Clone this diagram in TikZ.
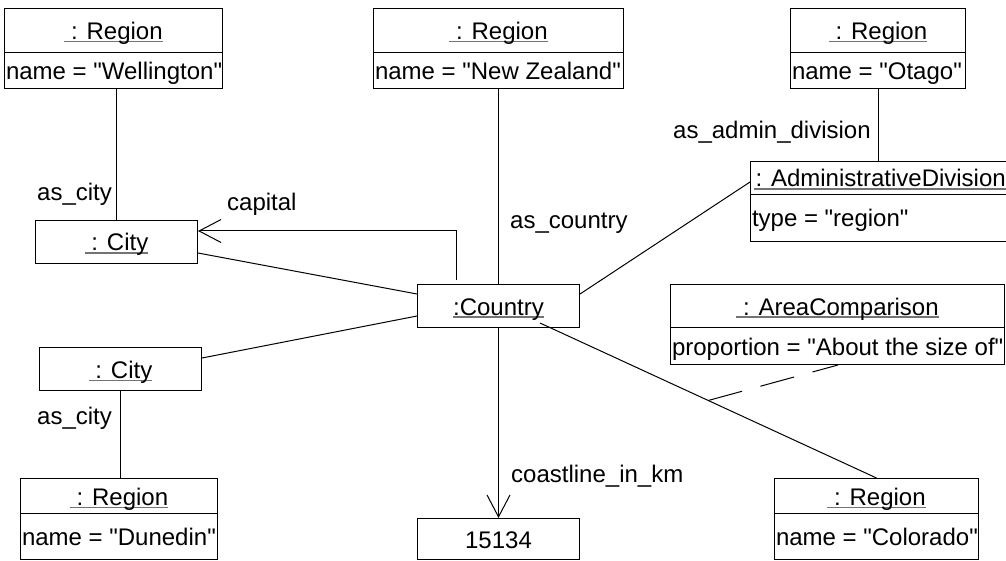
\documentclass[tikz,border=0pt]{standalone}
\usepackage{fontspec}
\setmainfont{Liberation Sans}[Ligatures=TeXOff]
\usetikzlibrary{arrows.meta,calc}
\definecolor{ulgray}{gray}{0.45}
\newsavebox\ulbox
\newcommand\ulx[1]{\sbox\ulbox{#1}\rlap{\textcolor{ulgray}{\rule[-2.6pt]{\wd\ulbox}{1.1pt}}}\usebox\ulbox}
\begin{document}
\begin{tikzpicture}[x=1pt,y=-1pt,
  every node/.style={font=\fontsize{24pt}{28pt}\selectfont},
  box/.style={draw, line width=1pt, inner sep=0pt, anchor=north west, text height=18pt, text depth=0pt},
  lbl/.style={inner sep=0pt, anchor=base west},
  conn/.style={line width=1pt},
  opentip/.style={-{Straight Barb[length=22pt,width=23pt,line width=1pt]}}
]
\useasboundingbox (0,0) rectangle (1006,561);
\clip (0,0) rectangle (1006,561);
\fill[white] (0,0) rectangle (1006,561);

% objects
\node[box, minimum width=218pt, minimum height=44pt] (wel) at (4,8) {\ulx{\ : Region}};
\node[box, minimum width=218pt, minimum height=36pt] (welA) at (4,52) {\makebox[215pt][l]{name = "Wellington"}};

\node[box, minimum width=250pt, minimum height=44pt] (nz) at (373,8) {\ulx{\ : Region}};
\node[box, minimum width=250pt, minimum height=36pt] (nzA) at (373,52) {\makebox[247pt][l]{name = "New Zealand"}};

\node[box, minimum width=175pt, minimum height=44pt] (ota) at (790,8) {\ulx{\ : Region}};
\node[box, minimum width=175pt, minimum height=36pt] (otaA) at (790,52) {\makebox[172pt][l]{name = "Otago"}};

\node[box, minimum width=262pt, minimum height=33pt] (adm) at (750,161) {\makebox[262pt][l]{\hspace{3pt}\ulx{\hspace{2pt}: AdministrativeDivision}}};
\node[box, minimum width=262pt, minimum height=47pt] (admA) at (750,194) {\makebox[259pt][l]{type = "region"}};

\node[box, minimum width=162pt, minimum height=43pt] (city1) at (35,220) {\ulx{\ : City}};
\node[box, minimum width=162pt, minimum height=43pt] (country) at (417,284) {\ulx{:Country}};
\node[box, minimum width=162pt, minimum height=43pt] (city2) at (39,347) {\ulx{\ : City}};

\node[box, minimum width=334pt, minimum height=43pt] (area) at (670,284) {\ulx{\ : AreaComparison}};
\node[box, minimum width=334pt, minimum height=37pt] (areaA) at (670,327) {\makebox[331pt][l]{proportion = "About the size of"}};

\node[box, minimum width=197pt, minimum height=35pt] (dun) at (20,478) {\ulx{\ : Region}};
\node[box, minimum width=197pt, minimum height=46pt] (dunA) at (20,513) {\makebox[194pt][l]{name = "Dunedin"}};

\node[box, minimum width=162pt, minimum height=41pt] (num) at (417,518) {15134};

\node[box, minimum width=204pt, minimum height=35pt] (col) at (774,478) {\ulx{\ : Region}};
\node[box, minimum width=204pt, minimum height=46pt] (colA) at (774,513) {\makebox[201pt][l]{name = "Colorado"}};

% connectors
\draw[conn] (city1.north) -- (city1.north |- welA.south);
\draw[conn, opentip] ($(country.north west)+(39,-4)$) |- ($(city1.north east)+(0,11)$);
\draw[conn] ($(city1.north east)+(0,33)$) -- ($(country.north west)+(0,10)$);
\draw[conn] ($(country.north west)+(0,32)$) -- ($(city2.north east)+(0,11)$);
\draw[conn] (city2.south) -- (city2.south |- dun.north);
\draw[conn] (nzA.south) -- (country.north);
\draw[conn] ($(adm.north west)+(0,21)$) -- ($(country.north east)+(0,10)$);
\draw[conn] (otaA.south) -- (otaA.south |- adm.north);
\draw[conn, opentip] (country.south) -- (num.north);
\draw[conn] ($(country.south west)+(123,-5)$) -- coordinate[pos=0.5] (meet) (col.north);
\draw[conn, dash pattern=on 35pt off 19pt] (meet) -- ($(areaA.south west)+(168,0)$);

% labels
\node[lbl] (l1) at (37,201) {as\_city};
\node[lbl] (l2) at (227,211) {capital};
\node[lbl] (l3) at (37,424) {as\_city};
\node[lbl] (l4) at (673,139) {as\_admin\_division};
\node[lbl] (l5) at (510,229) {as\_country};
\node[lbl] (l6) at (511,482) {coastline\_in\_km};
\end{tikzpicture}
\end{document}
